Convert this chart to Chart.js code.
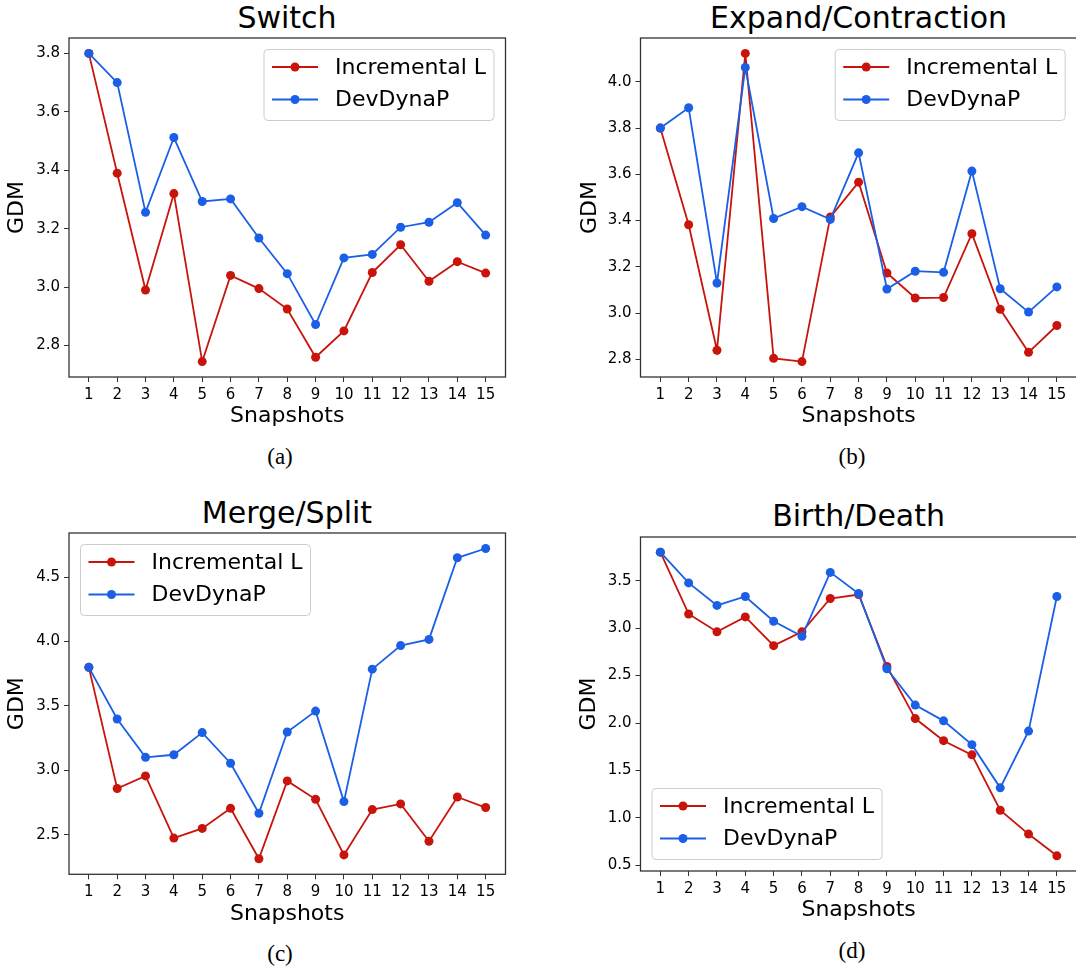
<!DOCTYPE html>
<html>
<head>
<meta charset="utf-8">
<script src="https://cdn.jsdelivr.net/npm/chart.js@4.4.1/dist/chart.umd.min.js"></script>
<style>
  html, body { margin: 0; padding: 0; background: #fff; }
  body { width: 1076px; height: 972px; position: relative; overflow: hidden; }
  canvas { position: absolute; }
  .ttl { position: absolute; font-family: 'DejaVu Sans', sans-serif; font-size: 30px; line-height: 1;
         color: #000; white-space: nowrap; transform: translate(-50%, -50%); }
  .cap { position: absolute; font-family: 'Liberation Serif', 'Times New Roman', serif; font-size: 23px;
         line-height: 1; color: #000; white-space: nowrap; transform: translate(-50%, -50%); }
</style>
</head>
<body>
<div class="ttl" style="left:287px; top:17.5px">Switch</div>
<div class="ttl" style="left:858.6px; top:17.5px">Expand/Contraction</div>
<div class="ttl" style="left:287px; top:513px">Merge/Split</div>
<div class="ttl" style="left:858.6px; top:516px">Birth/Death</div>

<canvas id="pA"></canvas>
<canvas id="pB"></canvas>
<canvas id="pC"></canvas>
<canvas id="pD"></canvas>

<div class="cap" style="left:280px; top:456px">(a)</div>
<div class="cap" style="left:852px; top:456px">(b)</div>
<div class="cap" style="left:280px; top:953px">(c)</div>
<div class="cap" style="left:852px; top:950px">(d)</div>

<script>
// Snapshot index on the x axis
const SNAPSHOTS = [1, 2, 3, 4, 5, 6, 7, 8, 9, 10, 11, 12, 13, 14, 15];

// GDM per snapshot, one pair of series per event type
const SWITCH_INC = [3.80, 3.39, 2.99, 3.32, 2.745, 3.04, 2.995, 2.925, 2.76, 2.85, 3.05, 3.145, 3.02, 3.087, 3.048];
const SWITCH_DEV = [3.80, 3.70, 3.256, 3.512, 3.293, 3.302, 3.168, 3.046, 2.872, 3.10, 3.112, 3.205, 3.222, 3.289, 3.178];

const EXPAND_INC = [3.80, 3.382, 2.839, 4.123, 2.804, 2.790, 3.415, 3.566, 3.173, 3.065, 3.067, 3.343, 3.016, 2.830, 2.946];
const EXPAND_DEV = [3.80, 3.888, 3.130, 4.062, 3.409, 3.460, 3.405, 3.693, 3.104, 3.181, 3.176, 3.614, 3.105, 3.004, 3.113];

const MERGE_INC = [3.80, 2.859, 2.957, 2.474, 2.549, 2.705, 2.313, 2.918, 2.775, 2.343, 2.695, 2.739, 2.449, 2.793, 2.711];
const MERGE_DEV = [3.80, 3.399, 3.101, 3.121, 3.293, 3.055, 2.667, 3.298, 3.460, 2.757, 3.786, 3.969, 4.017, 4.651, 4.723];

const BIRTH_INC = [3.80, 3.149, 2.961, 3.118, 2.815, 2.961, 3.312, 3.354, 2.596, 2.047, 1.814, 1.665, 1.081, 0.830, 0.601];
const BIRTH_DEV = [3.80, 3.476, 3.239, 3.333, 3.072, 2.913, 3.587, 3.364, 2.572, 2.189, 2.023, 1.772, 1.317, 1.915, 3.333];

// y tick values for each panel
const TICKS_SWITCH = [2.8, 3.0, 3.2, 3.4, 3.6, 3.8];
const TICKS_EXPAND = [2.8, 3.0, 3.2, 3.4, 3.6, 3.8, 4.0];
const TICKS_MERGE  = [2.5, 3.0, 3.5, 4.0, 4.5];
const TICKS_BIRTH  = [0.5, 1.0, 1.5, 2.0, 2.5, 3.0, 3.5];

const SERIES_NAMES = ['Incremental L', 'DevDynaP'];
const RED = '#c8140a';
const BLUE = '#1a5fe6';
const FONT = "'DejaVu Sans', sans-serif";

Chart.defaults.font.family = FONT;
Chart.defaults.color = '#000';

// Box around the plotting area (all four sides)
const frame = {
  id: 'frame',
  afterDatasetsDraw(chart) {
    const { ctx, chartArea: a } = chart;
    ctx.save();
    ctx.strokeStyle = '#333';
    ctx.lineWidth = 1.3;
    ctx.strokeRect(a.left, a.top, a.right - a.left, a.bottom - a.top);
    ctx.restore();
  }
};

// Legend drawn inside the plotting area, at one of its corners
const insetLegend = {
  id: 'insetLegend',
  afterDraw(chart, args, opts) {
    const { ctx, chartArea: a } = chart;
    const W = 230, H = 71, R = 4;
    const x = opts.corner === 'ur' ? a.right - opts.inset - W : a.left + opts.inset;
    const y = opts.corner === 'll' ? a.bottom - opts.inset - H : a.top + opts.inset;
    ctx.save();
    ctx.beginPath();
    ctx.moveTo(x + R, y);
    ctx.arcTo(x + W, y, x + W, y + H, R);
    ctx.arcTo(x + W, y + H, x, y + H, R);
    ctx.arcTo(x, y + H, x, y, R);
    ctx.arcTo(x, y, x + W, y, R);
    ctx.closePath();
    ctx.fillStyle = 'rgba(255,255,255,0.8)';
    ctx.fill();
    ctx.strokeStyle = '#cccccc';
    ctx.lineWidth = 1;
    ctx.stroke();
    chart.data.datasets.forEach((ds, i) => {
      const cy = y + 17.5 + i * 32.5;
      ctx.strokeStyle = ds.borderColor;
      ctx.lineWidth = ds.borderWidth;
      ctx.beginPath();
      ctx.moveTo(x + 8, cy);
      ctx.lineTo(x + 54, cy);
      ctx.stroke();
      ctx.fillStyle = ds.borderColor;
      ctx.beginPath();
      ctx.arc(x + 31, cy, ds.pointRadius, 0, Math.PI * 2);
      ctx.fill();
      ctx.fillStyle = '#000';
      ctx.font = '22px ' + FONT;
      ctx.textAlign = 'left';
      ctx.textBaseline = 'middle';
      ctx.fillText(ds.label, x + 71, cy + 1);
    });
    ctx.restore();
  }
};

function series(label, values, color, order) {
  return {
    label,
    data: SNAPSHOTS.map((s, i) => ({ x: s, y: values[i] })),
    borderColor: color,
    backgroundColor: color,
    pointBackgroundColor: color,
    pointBorderColor: color,
    pointBorderWidth: 0,
    pointRadius: 4.5,
    borderWidth: 1.8,
    tension: 0,
    fill: false,
    order
  };
}

function panel(id, p) {
  const el = document.getElementById(id);
  const canvasTop = Math.floor(p.area.t) - 10;
  const canvasW = Math.ceil(p.area.r - p.canvasLeft + 20);
  const canvasH = Math.ceil(p.area.b - canvasTop + 62);
  const xH = canvasH - (p.area.b - canvasTop);
  el.width = canvasW;
  el.height = canvasH;
  el.style.left = p.canvasLeft + 'px';
  el.style.top = canvasTop + 'px';

  const all = p.inc.concat(p.dev);
  const lo = Math.min(...all), hi = Math.max(...all);
  const pad = (hi - lo) * 0.05;
  const titleLH = 22 * 1.2;

  new Chart(el, {
    type: 'line',
    data: {
      datasets: [
        series(SERIES_NAMES[0], p.inc, RED, 1),
        series(SERIES_NAMES[1], p.dev, BLUE, 0)
      ]
    },
    options: {
      responsive: false,
      devicePixelRatio: 1,
      animation: false,
      events: [],
      layout: {
        padding: {
          left: 0,
          top: p.area.t - canvasTop,
          right: canvasW - (p.area.r - p.canvasLeft),
          bottom: 0
        }
      },
      plugins: {
        legend: { display: false },
        tooltip: { enabled: false },
        title: { display: false },
        insetLegend: { corner: p.legend, inset: 11.5 }
      },
      scales: {
        x: {
          type: 'linear',
          position: 'bottom',
          min: SNAPSHOTS[0] - 0.7,
          max: SNAPSHOTS[SNAPSHOTS.length - 1] + 0.7,
          afterBuildTicks: s => { s.ticks = SNAPSHOTS.map(v => ({ value: v })); },
          afterFit: s => { s.height = xH; },
          ticks: {
            autoSkip: false, maxRotation: 0, padding: 4,
            font: { size: 15 }, color: '#000',
            callback: v => String(v)
          },
          grid: { drawOnChartArea: false, drawTicks: true, tickLength: 5, color: '#333', lineWidth: 1 },
          border: { display: false },
          title: {
            display: true, text: 'Snapshots', font: { size: 22 }, color: '#000',
            padding: { top: 0, bottom: xH - titleLH / 2 - 39.5 }
          }
        },
        y: {
          type: 'linear',
          position: 'left',
          min: lo - pad,
          max: hi + pad,
          afterBuildTicks: s => { s.ticks = p.yTicks.map(v => ({ value: v })); },
          afterFit: s => { s.width = p.area.l - p.canvasLeft; },
          ticks: {
            padding: 4, font: { size: 15 }, color: '#000',
            callback: v => Number(v).toFixed(1)
          },
          grid: { drawOnChartArea: false, drawTicks: true, tickLength: 5, color: '#333', lineWidth: 1 },
          border: { display: false },
          title: {
            display: true, text: 'GDM', font: { size: 22 }, color: '#000',
            padding: { top: p.gdmX - p.canvasLeft - titleLH / 2, bottom: 0 }
          }
        }
      }
    },
    plugins: [frame, insetLegend]
  });
}

panel('pA', { area: { l: 69, t: 35, r: 505.5, b: 377 }, canvasLeft: 0, gdmX: 17.7,
              inc: SWITCH_INC, dev: SWITCH_DEV, yTicks: TICKS_SWITCH, legend: 'ur' });
panel('pB', { area: { l: 640.5, t: 35, r: 1076.7, b: 377 }, canvasLeft: 560, gdmX: 590,
              inc: EXPAND_INC, dev: EXPAND_DEV, yTicks: TICKS_EXPAND, legend: 'ur' });
panel('pC', { area: { l: 69, t: 530.7, r: 505.5, b: 874.3 }, canvasLeft: 0, gdmX: 17.7,
              inc: MERGE_INC, dev: MERGE_DEV, yTicks: TICKS_MERGE, legend: 'ul' });
panel('pD', { area: { l: 640.5, t: 534, r: 1076.7, b: 871 }, canvasLeft: 560, gdmX: 589.6,
              inc: BIRTH_INC, dev: BIRTH_DEV, yTicks: TICKS_BIRTH, legend: 'll' });
</script>
</body>
</html>
